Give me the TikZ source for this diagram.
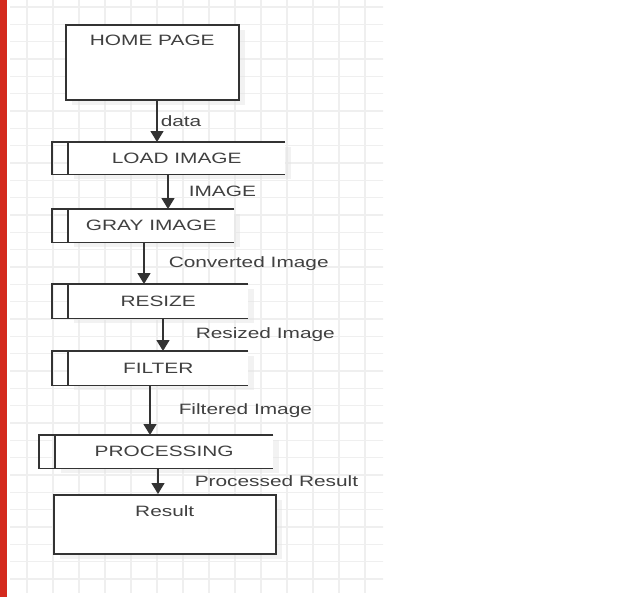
\documentclass[tikz,border=0pt]{standalone}
\usepackage{fontspec}
\setmainfont{Liberation Sans}[FakeStretch=1.39]
\usetikzlibrary{arrows.meta,shadows}
\definecolor{linec}{HTML}{333333}
\definecolor{txtc}{HTML}{404040}
\definecolor{gridc}{HTML}{EFEFEF}
\definecolor{barc}{HTML}{D42A1E}

\begin{document}
\begin{tikzpicture}[x=1pt,y=-1pt,font=\fontsize{15pt}{18pt}\selectfont,
  gridl/.style={draw=gridc,line width=1.3pt},
  box/.style={draw=linec,line width=1.5pt,fill=white,anchor=north west,inner sep=0pt,
    drop shadow={shadow xshift=6pt,shadow yshift=-5pt,fill=black!10}},
  stage/.style={fill=white,anchor=north west,inner sep=0pt,text=txtc,
    drop shadow={shadow xshift=6pt,shadow yshift=-5pt,fill=black!10}},
  title/.style={anchor=north,inner sep=0pt,yshift=-11pt,text=txtc},
  edge/.style={draw=linec,line width=1.5pt},
  arr/.style={edge,-{Triangle[width=13pt,length=11pt]}},
  lbl/.style={anchor=west,inner sep=0pt,text=txtc}]
  \useasboundingbox (0,0) rectangle (620,597);
  % background grid
  \begin{scope}
    \clip (10,0) rectangle (383,592);
    \foreach \k in {0,...,13} \draw[gridl] ({27+26*\k},0) -- ({27+26*\k},597);
    \foreach \k in {0,...,33} \draw[gridl] (0,{7+17.33*\k}) -- (620,{7+17.33*\k});
  \end{scope}
  \fill[barc] (0,0) rectangle (7,597);

  \node[box,minimum width=173pt,minimum height=75pt,
    label={[title]north:HOME PAGE}] (home) at (65,24) {};
  \node[stage,minimum width=217pt,minimum height=32pt] (load) at (68,142) {LOAD IMAGE};
  \node[stage,minimum width=166pt,minimum height=33pt] (gray) at (68,209) {GRAY IMAGE};
  \node[stage,minimum width=180pt,minimum height=34pt] (resize) at (68,284) {RESIZE};
  \node[stage,minimum width=180pt,minimum height=34pt] (filter) at (68,351) {FILTER};
  \node[stage,minimum width=218pt,minimum height=33pt] (procs) at (55,435) {PROCESSING};
  \node[box,minimum width=222pt,minimum height=59pt,
    label={[title]north:Result}] (result) at (53,494) {};

  % open process boxes with side strip
  \foreach \n in {load,gray,resize,filter,procs}
    \draw[edge] (\n.north east) -- ([xshift=-16pt]\n.north west)
      -- ([xshift=-16pt]\n.south west) -- (\n.south east)
      (\n.north west) -- (\n.south west);

  % flow
  \foreach \a/\b/\dx/\off/\t in {home/load/92/3/data,load/gray/100/20/IMAGE,
      gray/resize/76/24/Converted Image,resize/filter/95/32/Resized Image,
      filter/procs/82/28/Filtered Image,procs/result/103/36/Processed Result}
    \draw[arr] ([xshift=\dx pt]\a.south west) -- ([xshift=\dx pt]\a.south west |- \b.north)
      node[lbl,midway,xshift=\off pt] {\t};
\end{tikzpicture}
\end{document}
